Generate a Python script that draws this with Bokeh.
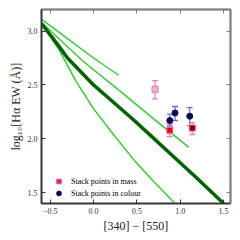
import math
from bokeh.plotting import figure
from bokeh.models import (LinearAxis, FixedTicker, Range1d, ColumnDataSource, Whisker,
                          TeeHead, Legend, LegendItem)
from bokeh.embed import file_html
from bokeh.resources import INLINE

# ---------------- data ----------------
thick_x = [-0.6, -0.4, -0.3, 0.0, 0.2, 0.47, 0.66, 0.89, 1.2, 1.5]
thick_y = [3.07, 2.86, 2.75, 2.50, 2.36, 2.17, 2.03, 1.86, 1.63, 1.40]

lineA_x = [-0.6, -0.3, 0.0, 0.29]
lineA_y = [3.11, 2.93, 2.75, 2.59]

lineB_x = [-0.6, -0.12, 0.31, 0.7, 1.10]
lineB_y = [3.08, 2.72, 2.44, 2.18, 1.92]

lineC_x = [-0.6, -0.4, -0.2, 0.0, 0.2, 0.47, 0.7, 0.94]
lineC_y = [3.07, 2.83, 2.53, 2.28, 2.07, 1.80, 1.60, 1.40]

mass_x = [0.71, 0.88, 1.14]
mass_y = [2.46, 2.08, 2.10]
mass_lo = [2.37, 2.02, 2.04]
mass_hi = [2.54, 2.14, 2.15]
mass_fill = ["#f2b8c8", "#e8000b", "#8b0000"]
mass_edge = ["#e070a0", "#e070a0", "#e070a0"]

colour_x = [0.88, 0.94, 1.11]
colour_y = [2.17, 2.24, 2.21]
colour_lo = [2.12, 2.17, 2.12]
colour_hi = [2.23, 2.30, 2.29]

x_ticks = [-0.5, 0.0, 0.5, 1.0, 1.5]
x_tick_labels = ["\u22120.5", "0.0", "0.5", "1.0", "1.5"]
y_ticks = [1.5, 2.0, 2.5, 3.0]
y_tick_labels = ["1.5", "2.0", "2.5", "3.0"]

legend_labels = ["Stack points in mass", "Stack points in colour"]

FONT = "Liberation Serif"

p = figure(width=232, height=235, x_range=Range1d(-0.6, 1.58), y_range=Range1d(1.4, 3.2),
           output_backend="svg", toolbar_location=None,
           min_border_left=41, min_border_right=2, min_border_top=9, min_border_bottom=29)
p.xgrid.visible = False
p.ygrid.visible = False
p.outline_line_color = "#808080"
p.outline_line_width = 2
p.background_fill_color = "white"
p.border_fill_color = "white"

def style_axis(ax, ticks, labels, show_labels=True, color="#333333"):
    ax.ticker = FixedTicker(ticks=ticks)
    if show_labels:
        ax.major_label_overrides = {t: l for t, l in zip(ticks, labels)}
    else:
        ax.major_label_overrides = {t: "" for t in ticks}
    ax.major_tick_in = 4
    ax.major_tick_out = 0
    ax.minor_tick_in = 0
    ax.minor_tick_out = 0
    ax.major_tick_line_color = color
    ax.major_tick_line_width = 1
    ax.axis_line_color = color
    ax.axis_line_width = 1.5
    ax.major_label_text_font = FONT
    ax.major_label_text_color = "#333333"
    ax.major_label_text_font_size = "8px"
    ax.major_label_standoff = 4 if show_labels else 0

xb = p.xaxis[0]
yl = p.yaxis[0]
style_axis(xb, x_ticks, x_tick_labels)
style_axis(yl, y_ticks, y_tick_labels)
xb.axis_label = "[340] \u2212 [550]"
yl.axis_label = "log\u2081\u2080[H\u03b1 EW (\u00c5)]"
for ax in (xb, yl):
    ax.axis_label_text_font = FONT
    ax.axis_label_text_font_style = "normal"
    ax.axis_label_text_font_size = "12px"
    ax.axis_label_text_color = "#222222"
    ax.axis_label_standoff = 2

xt = LinearAxis()
yr = LinearAxis()
style_axis(xt, x_ticks, x_tick_labels, show_labels=False, color="#808080")
style_axis(yr, y_ticks, y_tick_labels, show_labels=False, color="#808080")
p.add_layout(xt, "above")
p.add_layout(yr, "right")

# curves
LIGHT = "#33cc33"
p.line(lineA_x, lineA_y, line_color=LIGHT, line_width=1.5)
p.line(lineB_x, lineB_y, line_color=LIGHT, line_width=1.5)
p.line(lineC_x, lineC_y, line_color=LIGHT, line_width=1.5)
p.line(thick_x, thick_y, line_color="#006400", line_width=3.5)

# error bars
msrc = ColumnDataSource(dict(x=mass_x, y=mass_y, lo=mass_lo, hi=mass_hi, fill=mass_fill, edge=mass_edge))
csrc = ColumnDataSource(dict(x=colour_x, y=colour_y, lo=colour_lo, hi=colour_hi))

PINK = "#f47fb8"
BLUE = "#7070c8"
wm = Whisker(base="x", lower="lo", upper="hi", source=msrc, dimension="height",
             line_color=PINK, line_width=1.3,
             upper_head=TeeHead(size=6, line_color=PINK, line_width=1.3),
             lower_head=TeeHead(size=6, line_color=PINK, line_width=1.3))
wc = Whisker(base="x", lower="lo", upper="hi", source=csrc, dimension="height",
             line_color=BLUE, line_width=1.3,
             upper_head=TeeHead(size=6, line_color=BLUE, line_width=1.3),
             lower_head=TeeHead(size=6, line_color=BLUE, line_width=1.3))
p.add_layout(wm)
p.add_layout(wc)

p.scatter("x", "y", source=msrc, marker="square", size=6, fill_color="fill",
          line_color="edge", line_width=1)
p.scatter("x", "y", source=csrc, marker="circle", size=6, fill_color="#0a0a5a",
          line_color="#0a0a5a")

# legend (off-screen renderers, only their glyphs show in the legend)
nan = float("nan")
lm_pt = p.scatter(x=[nan], y=[nan], marker="square", fill_color="#e6177d",
                  line_color="#e070a0")
lc_pt = p.scatter(x=[nan], y=[nan], marker="circle", fill_color="#0a0a5a",
                  line_color="#0a0a5a")

legend = Legend(items=[LegendItem(label=legend_labels[0], renderers=[lm_pt]),
                       LegendItem(label=legend_labels[1], renderers=[lc_pt])],
                location=(10, 4), border_line_color=None, background_fill_alpha=0,
                label_text_font=FONT, label_text_font_size="8px", label_text_color="black",
                glyph_width=15, glyph_height=12, label_height=12, label_standoff=5,
                spacing=0, padding=0, margin=0)
p.add_layout(legend)

open("out.html", "w").write(file_html(p, INLINE))
